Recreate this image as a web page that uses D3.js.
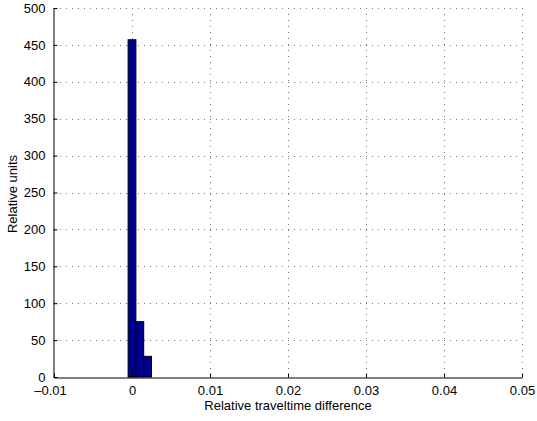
<!DOCTYPE html>
<html>
<head>
<meta charset="utf-8">
<script src="https://cdn.jsdelivr.net/npm/d3@7"></script>
<style>
  body { margin: 0; background: #fff; }
  text { font-family: "Liberation Sans", Arial, sans-serif; }
</style>
</head>
<body>
<svg id="chart" width="537" height="421"></svg>
<script>
// -----------------------------------------------------------------------------

var binCenters = [0, 0.001, 0.002];
var binCounts = [457, 75, 28];
var binWidth = 0.001;

var xTicks = [-0.01, 0, 0.01, 0.02, 0.03, 0.04, 0.05];
var yTicks = [0, 50, 100, 150, 200, 250, 300, 350, 400, 450, 500];

var xLabel = 'Relative traveltime difference';
var yLabel = 'Relative units';

// -----------------------------------------------------------------------------

var svg = d3.select('#chart');
var plotLeft = 54, plotRight = 522, plotTop = 8, plotBottom = 377;

var x = d3.scaleLinear().domain([-0.01, 0.05]).range([plotLeft, plotRight]);
var y = d3.scaleLinear().domain([0, 500]).range([plotBottom, plotTop]);

function fmtX(d) {
  if (d === 0) return '0';
  var s = String(+d.toFixed(2));
  return s.replace('-', '\u2013');
}

// - - - - - - - - - - - - - - - - - - - - - - - - - - - - - - - - - - - - - - -
// dotted grid

var grid = svg.append('g').attr('class', 'grid');
grid.selectAll('line.gx')
  .data(xTicks.filter(function (d) { return d > -0.01; }))
  .join('line')
  .attr('x1', function (d) { return Math.round(x(d)) + 0.5; })
  .attr('x2', function (d) { return Math.round(x(d)) + 0.5; })
  .attr('y1', plotTop)
  .attr('y2', plotBottom)
  .attr('stroke', '#777')
  .attr('stroke-width', 1)
  .attr('stroke-dasharray', '1,5');
grid.selectAll('line.gy')
  .data(yTicks.filter(function (d) { return d > 0; }))
  .join('line')
  .attr('x1', plotLeft)
  .attr('x2', plotRight)
  .attr('y1', function (d) { return Math.round(y(d)) + 0.5; })
  .attr('y2', function (d) { return Math.round(y(d)) + 0.5; })
  .attr('stroke', '#777')
  .attr('stroke-width', 1)
  .attr('stroke-dasharray', '1,5');

// - - - - - - - - - - - - - - - - - - - - - - - - - - - - - - - - - - - - - - -
// histogram bars

svg.append('g')
  .selectAll('rect')
  .data(binCenters.map(function (c, i) { return { c: c, v: binCounts[i] }; }))
  .join('rect')
  .attr('x', function (d) { return x(d.c - binWidth / 2); })
  .attr('width', function (d) { return x(d.c + binWidth / 2) - x(d.c - binWidth / 2); })
  .attr('y', function (d) { return y(d.v); })
  .attr('height', function (d) { return y(0) - y(d.v); })
  .attr('fill', '#00008f')
  .attr('stroke', '#000')
  .attr('stroke-width', 1);

// - - - - - - - - - - - - - - - - - - - - - - - - - - - - - - - - - - - - - - -
// axes

var xAxis = d3.axisBottom(x).tickValues(xTicks).tickFormat(fmtX)
  .tickSizeInner(-4).tickSizeOuter(0).tickPadding(8);
var gx = svg.append('g')
  .attr('transform', 'translate(0,' + (plotBottom + 0.5) + ')')
  .call(xAxis);

var yAxis = d3.axisLeft(y).tickValues(yTicks)
  .tickSizeInner(-4).tickSizeOuter(0).tickPadding(8);
var gy = svg.append('g')
  .attr('transform', 'translate(' + (plotLeft - 0.5) + ',0)')
  .call(yAxis);

[gx, gy].forEach(function (g) {
  g.select('.domain').attr('stroke', '#000');
  g.selectAll('.tick line').attr('stroke', '#000');
  g.selectAll('.tick text')
    .attr('fill', '#000')
    .style('font-size', '13px')
    .style('font-family', '"Liberation Sans", Arial, sans-serif');
});

// the leftmost label sits a little left of its tick, as in the original
gx.selectAll('.tick text')
  .filter(function (d) { return d === -0.01; })
  .attr('dx', -4);

svg.append('text')
  .attr('x', (plotLeft + plotRight) / 2)
  .attr('y', 410)
  .attr('text-anchor', 'middle')
  .style('font-size', '13px')
  .text(xLabel);

svg.append('text')
  .attr('transform', 'translate(17,194) rotate(-90)')
  .attr('text-anchor', 'middle')
  .style('font-size', '13px')
  .text(yLabel);
</script>
</body>
</html>
